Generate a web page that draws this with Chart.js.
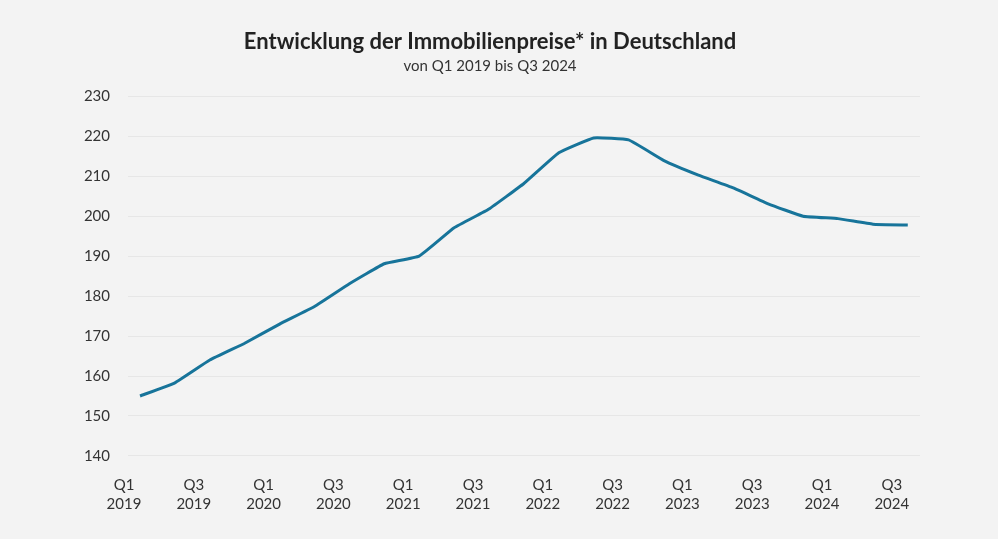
<!DOCTYPE html>
<html>
<head>
<meta charset="utf-8">
<script src="https://cdn.jsdelivr.net/npm/chart.js@4"></script>
<style>
  html, body { margin: 0; padding: 0; background: #f3f3f3; }
  #wrap { width: 998px; height: 539px; position: relative; }
</style>
</head>
<body>
<div id="wrap"><canvas id="c" width="998" height="539"></canvas></div>
<script>
const quarters = ["Q1 2019","Q2 2019","Q3 2019","Q4 2019","Q1 2020","Q2 2020","Q3 2020","Q4 2020",
  "Q1 2021","Q2 2021","Q3 2021","Q4 2021","Q1 2022","Q2 2022","Q3 2022","Q4 2022",
  "Q1 2023","Q2 2023","Q3 2023","Q4 2023","Q1 2024","Q2 2024","Q3 2024"];
const priceIndex = [155.0, 158.3, 164.0, 168.2, 173.0, 177.4, 183.1, 188.1,
  190.0, 197.1, 201.8, 208.2, 215.9, 219.6, 219.1, 214.0,
  210.3, 207.1, 203.1, 200.0, 199.4, 198.0, 197.8];
const yTicks = [140,150,160,170,180,190,200,210,220,230];

const FONT = "Lato, 'Noto Sans', sans-serif";
const bg = {
  id: 'bg',
  beforeDraw(chart) {
    const ctx = chart.ctx;
    ctx.save();
    ctx.fillStyle = '#f3f3f3';
    ctx.fillRect(0, 0, chart.width, chart.height);
    ctx.restore();
  }
};

new Chart(document.getElementById('c'), {
  type: 'line',
  data: {
    datasets: [{
      data: priceIndex.map((v, i) => ({x: i, y: v})),
      borderColor: '#17749a',
      borderWidth: 3,
      pointRadius: 0,
      tension: 0.1,
      fill: false
    }]
  },
  options: {
    responsive: false,
    animation: false,
    layout: { padding: { left: 60, right: 78, top: 0, bottom: 5 } },
    plugins: {
      legend: { display: false },
      tooltip: { enabled: false },
      title: {
        display: true,
        text: 'Entwicklung der Immobilienpreise* in Deutschland',
        color: '#222222',
        font: { family: FONT, size: 22, weight: 'bold' },
        padding: { top: 29, bottom: 2 }
      },
      subtitle: {
        display: true,
        text: 'von Q1 2019 bis Q3 2024',
        color: '#333333',
        font: { family: FONT, size: 15, weight: 'normal' },
        padding: { top: 0, bottom: 21 }
      }
    },
    scales: {
      x: {
        type: 'linear',
        min: -0.344,
        max: 22.35,
        border: { display: false },
        grid: { display: false, drawTicks: false },
        ticks: {
          stepSize: 1,
          includeBounds: false,
          autoSkip: false,
          maxRotation: 0,
          labelOffset: -16,
          padding: 20,
          color: '#333333',
          font: { family: FONT, size: 15, lineHeight: 1.27 },
          callback: (v) => {
            const i = Math.round(v);
            if (i % 2 !== 0 || !quarters[i]) return '';
            return quarters[i].split(' ');
          }
        }
      },
      y: {
        min: 140,
        max: 230,
        border: { display: false },
        grid: { color: '#e6e6e6', lineWidth: 1, drawTicks: false },
        afterFit: (s) => { s.width = 68; },
        afterBuildTicks: (s) => { s.ticks = yTicks.map(v => ({value: v})); },
        ticks: {
          padding: 18,
          color: '#333333',
          font: { family: FONT, size: 15 }
        }
      }
    }
  },
  plugins: [bg]
});
</script>
</body>
</html>
